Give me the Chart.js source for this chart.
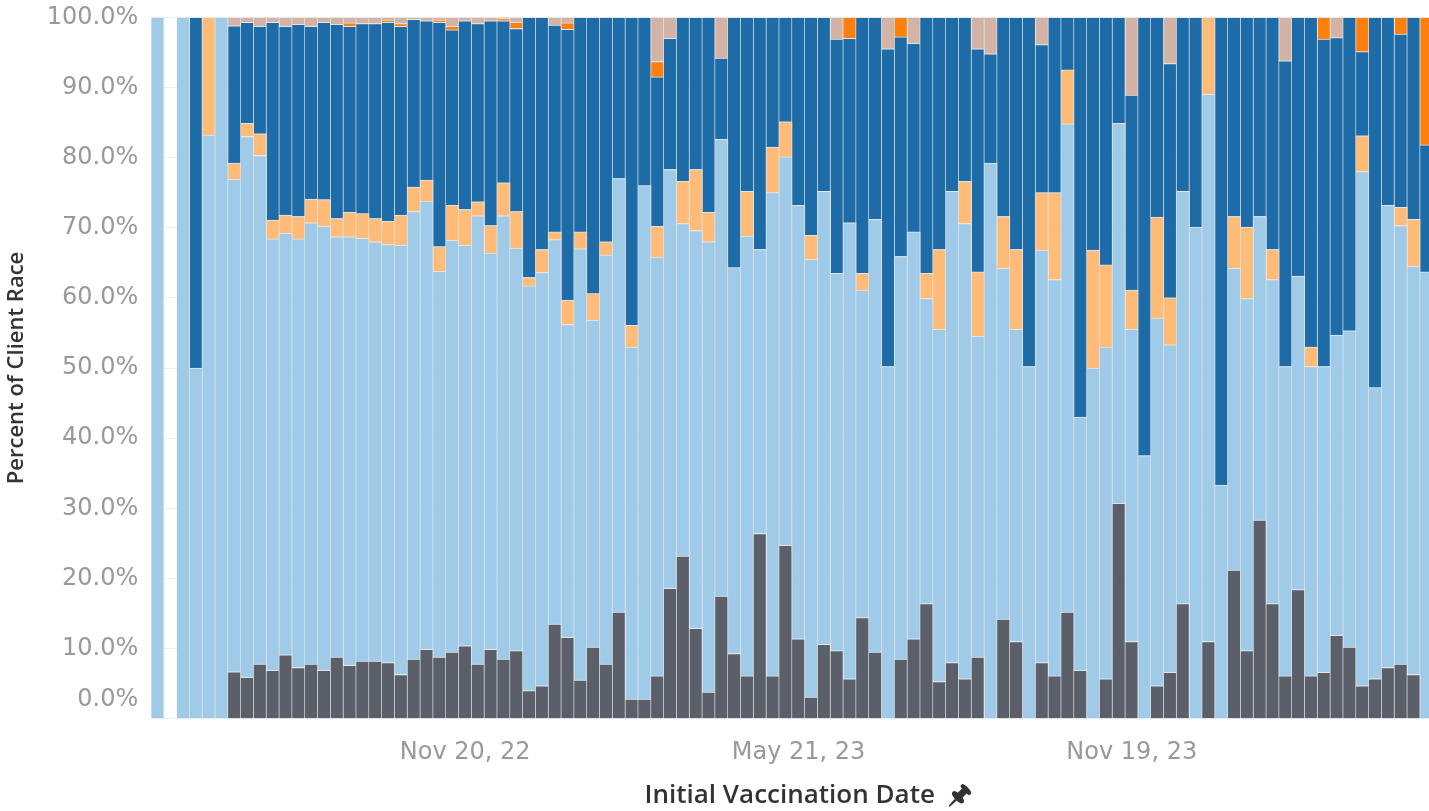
<!DOCTYPE html>
<html>
<head>
<meta charset="utf-8">
<script src="https://cdn.jsdelivr.net/npm/chart.js@4.4.1/dist/chart.umd.min.js"></script>
<style>
  html, body { margin: 0; padding: 0; background: #fff; overflow: hidden; }
  #wrap { width: 1433px; height: 811px; }
</style>
</head>
<body>
<div id="wrap"><canvas id="raceChart"></canvas></div>
<script>
// weekly buckets (week starting), 2022-06-12 has no clients
const weeks = [
  "2022-06-05","2022-06-12","2022-06-19","2022-06-26","2022-07-03","2022-07-10","2022-07-17","2022-07-24","2022-07-31","2022-08-07",
  "2022-08-14","2022-08-21","2022-08-28","2022-09-04","2022-09-11","2022-09-18","2022-09-25","2022-10-02","2022-10-09","2022-10-16",
  "2022-10-23","2022-10-30","2022-11-06","2022-11-13","2022-11-20","2022-11-27","2022-12-04","2022-12-11","2022-12-18","2022-12-25",
  "2023-01-01","2023-01-08","2023-01-15","2023-01-22","2023-01-29","2023-02-05","2023-02-12","2023-02-19","2023-02-26","2023-03-05",
  "2023-03-12","2023-03-19","2023-03-26","2023-04-02","2023-04-09","2023-04-16","2023-04-23","2023-04-30","2023-05-07","2023-05-14",
  "2023-05-21","2023-05-28","2023-06-04","2023-06-11","2023-06-18","2023-06-25","2023-07-02","2023-07-09","2023-07-16","2023-07-23",
  "2023-07-30","2023-08-06","2023-08-13","2023-08-20","2023-08-27","2023-09-03","2023-09-10","2023-09-17","2023-09-24","2023-10-01",
  "2023-10-08","2023-10-15","2023-10-22","2023-10-29","2023-11-05","2023-11-12","2023-11-19","2023-11-26","2023-12-03","2023-12-10",
  "2023-12-17","2023-12-24","2023-12-31","2024-01-07","2024-01-14","2024-01-21","2024-01-28","2024-02-04","2024-02-11","2024-02-18",
  "2024-02-25","2024-03-03","2024-03-10","2024-03-17","2024-03-24","2024-03-31","2024-04-07","2024-04-14","2024-04-21","2024-04-28"
];

const tickDates = ["2022-11-20", "2023-05-21", "2023-11-19"];
const tickText = ["Nov 20, 22", "May 21, 23", "Nov 19, 23"];

// percent of clients per week, bottom to top
const darkGray = [
  0,null,0,0,0,0,6.7,5.9,7.8,6.9, 9.1,7.3,7.8,6.9,8.8,7.6,8.2,8.2,8.0,6.3,
  8.5,9.9,8.8,9.5,10.4,7.8,9.9,8.5,9.7,4.0, 4.7,13.5,11.6,5.5,10.2,7.8,15.2,2.8,2.8,6.1,
  18.6,23.2,12.9,3.8,17.5,9.3,6.1,26.4,6.1,24.7, 11.4,3.1,10.6,9.7,5.7,14.4,9.5,0,8.5,11.4,
  16.4,5.3,8.0,5.7,8.8,0,14.2,11.0,0,8.0, 6.1,15.2,6.9,0,5.7,30.7,11.0,0,4.7,6.6,
  16.4,0,11.0,0,21.2,9.7,28.3,16.4,6.1,18.4, 6.1,6.6,11.9,10.2,4.7,5.7,7.3,7.8,6.3,0
];
const lightBlue = [
  100,null,100,50,83.2,100,70.2,77.1,72.5,61.5, 60.1,61.1,62.9,63.3,59.9,61.1,60.3,59.8,59.6,61.2,
  63.8,63.9,55.0,58.7,57.1,63.9,56.5,63.2,57.4,57.7, 58.9,54.8,44.6,61.5,46.6,58.3,61.8,50.2,73.2,59.7,
  59.7,47.4,56.7,64.2,65.1,55.0,62.7,40.5,68.9,55.4, 61.8,62.4,64.6,53.8,65.0,46.7,61.7,50.2,57.4,58.0,
  43.5,50.2,67.2,64.9,45.7,79.2,50.0,44.5,50.2,58.8, 56.5,69.6,36.1,50.0,47.3,54.2,44.5,37.5,52.4,46.7,
  58.8,70.1,78.0,33.3,43.0,50.2,43.3,46.2,44.1,44.7, 44.1,43.6,42.8,45.1,73.3,41.5,65.9,62.5,58.2,63.7
];
const lightOrange = [
  0,null,0,0,16.8,0,2.3,1.9,3.1,2.7, 2.6,3.2,3.4,3.8,2.6,3.5,3.5,3.3,3.3,4.3,
  3.5,3.0,3.5,5.0,5.1,2.0,3.9,4.7,5.2,1.2, 3.3,1.1,3.5,2.4,3.8,1.9,0,3.1,0,4.4,
  0,6.0,8.7,4.2,0,0,6.4,0,6.5,5.0, 0,3.4,0,0,0,2.4,0,0,0,0,
  3.6,11.4,0,6.0,9.2,0,7.4,11.4,0,8.2, 12.4,7.7,0,16.8,11.7,0,5.6,0,14.4,6.7,
  0,0,11.0,0,7.4,10.2,0,4.3,0,0, 2.8,0,0,0,5.1,0,0,2.6,6.7,0
];
const darkBlue = [
  0,null,0,50,0,0,19.6,14.4,15.3,28.2, 26.9,27.4,24.6,25.3,27.7,26.5,27.1,27.8,28.4,26.9,
  23.9,22.7,32.0,25.0,26.9,25.4,29.2,23.1,26.1,37.1, 33.1,29.5,38.6,30.6,39.4,32.0,23.0,43.9,24.0,21.3,
  18.7,23.4,21.7,27.8,11.6,35.7,24.8,33.1,18.5,14.9, 26.8,31.1,24.8,33.4,26.3,36.5,28.8,45.3,31.3,26.9,
  36.5,33.1,24.8,23.4,31.8,15.6,28.4,33.1,49.8,21.1, 25.0,7.5,57.0,33.2,35.3,15.1,27.8,62.5,28.5,33.4,
  24.8,29.9,0,66.7,28.4,29.9,28.4,33.1,43.6,36.9, 47.0,46.7,42.4,44.7,12.0,52.8,26.8,24.7,28.8,18.1
];
const orange = [
  0,null,0,0,0,0,0,0,0,0, 0,0,0,0,0,0.5,0,0,0.3,0.4,
  0,0,0.3,0.5,0,0,0,0.3,0.9,0, 0,0,0.9,0,0,0,0,0,0,2.2,
  0,0,0,0,0,0,0,0,0,0, 0,0,0,0,3.0,0,0,0,2.8,0,
  0,0,0,0,0,0,0,0,0,0, 0,0,0,0,0,0,0,0,0,0,
  0,0,0,0,0,0,0,0,0,0, 0,3.1,0,0,4.9,0,0,2.4,0,18.2
];
const tan = [
  0,null,0,0,0,0,1.2,0.7,1.3,0.7, 1.3,1.0,1.3,0.7,1.0,0.8,0.9,0.9,0.4,0.9,
  0.3,0.5,0.4,1.3,0.5,0.9,0.5,0.2,0.7,0, 0,1.1,0.8,0,0,0,0,0,0,6.3,
  3.0,0,0,0,5.8,0,0,0,0,0, 0,0,0,3.1,0,0,0,4.5,0,3.7,
  0,0,0,0,4.5,5.2,0,0,0,3.9, 0,0,0,0,0,0,11.1,0,0,6.6,
  0,0,0,0,0,0,0,0,6.2,0, 0,0,2.9,0,0,0,0,0,0,0
];

const yTicks = [0, 10, 20, 30, 40, 50, 60, 70, 80, 90, 100];

const seriesList = [
  { label: "Dark Gray", data: darkGray, color: "#5a5f69" },
  { label: "Light Blue", data: lightBlue, color: "#a0cbe8" },
  { label: "Light Orange", data: lightOrange, color: "#ffbb78" },
  { label: "Dark Blue", data: darkBlue, color: "#1d6ca8" },
  { label: "Orange", data: orange, color: "#ff7f0e" },
  { label: "Tan", data: tan, color: "#d2b3a6" }
];

const ctx = document.getElementById("raceChart");

new Chart(ctx, {
  type: "bar",
  data: {
    labels: weeks,
    datasets: seriesList.map((s) => ({
      label: s.label,
      data: s.data,
      backgroundColor: s.color,
      borderColor: "#e4e4e4",
      borderWidth: { top: 1, right: 1, bottom: 0, left: 0 },
      borderSkipped: false,
      barPercentage: 1,
      categoryPercentage: 1,
    })),
  },
  options: {
    responsive: true,
    maintainAspectRatio: false,
    animation: false,
    layout: { padding: 0 },
    plugins: {
      legend: { display: false },
      tooltip: { enabled: false },
    },
    scales: {
      x: {
        stacked: true,
        grid: { display: false, drawTicks: false },
        border: { display: false },
        ticks: {
          autoSkip: false,
          maxRotation: 0,
          minRotation: 0,
          padding: 20,
          color: "#999",
          font: { family: "'DejaVu Sans'", size: 24 },
          callback: function (value, index) {
            const i = tickDates.indexOf(weeks[index]);
            return i >= 0 ? tickText[i] : "";
          },
        },
        title: {
          display: true,
          // leading em space balances the pin so the words stay centred
          text: "\u2003 Initial Vaccination Date  \u{1F588}",
          color: "#333",
          font: { family: "'Open Sans'", size: 26, weight: "600" },
          padding: { top: 0, bottom: 0 },
        },
        afterFit: (scale) => {
          scale.height = 92.3;
          scale.paddingLeft = 0;
          scale.paddingRight = 0;
        },
      },
      y: {
        stacked: true,
        min: 0,
        max: 100,
        afterBuildTicks: (scale) => { scale.ticks = yTicks.map((v) => ({ value: v })); },
        grid: { color: "#efefef", drawTicks: false },
        border: { display: false },
        ticks: {
          autoSkip: false,
          padding: 13,
          color: "#999",
          font: { family: "'DejaVu Sans'", size: 24, lineHeight: 1.6 },
          callback: (v) => (v === 0 ? ["0.0%", ""] : v.toFixed(1) + "%"),
        },
        title: {
          display: true,
          text: "Percent of Client Race",
          color: "#333",
          font: { family: "'Open Sans'", size: 22, weight: "600" },
          padding: { top: 4, bottom: 0 },
        },
        afterFit: (scale) => {
          scale.width = 151.2;
          scale.paddingTop = 17.3;
          scale.paddingBottom = 0;
        },
      },
    },
  },
});
</script>
</body>
</html>
